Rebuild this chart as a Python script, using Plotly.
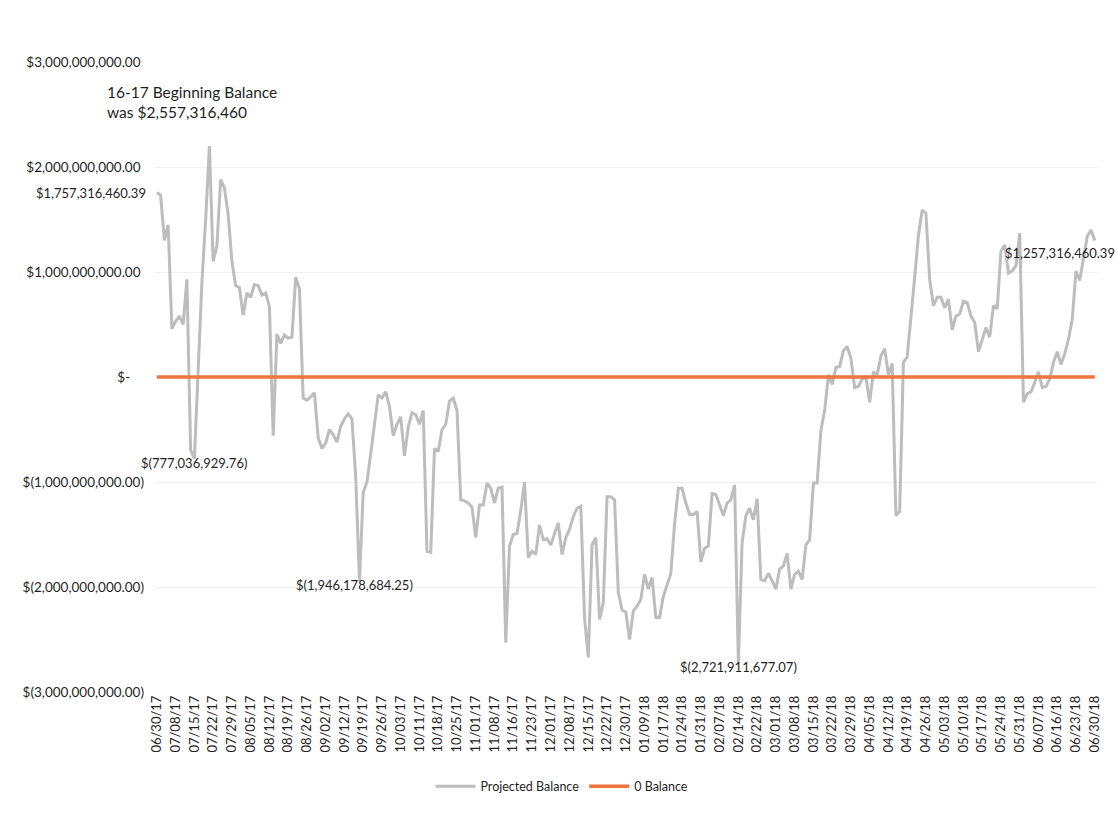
import plotly.graph_objects as go

# Projected daily balance (billions of dollars), one value per business day 06/30/17 .. 06/30/18
balance_bn = [
    1.757, 1.73, 1.30, 1.45, 0.46, 0.53, 0.58, 0.50, 0.93, -0.70,
    -0.777, 0.10, 0.90, 1.50, 2.20, 1.10, 1.25, 1.88, 1.80, 1.55,
    1.10, 0.87, 0.85, 0.59, 0.80, 0.76, 0.88, 0.87, 0.78, 0.80,
    0.67, -0.56, 0.41, 0.32, 0.40, 0.37, 0.38, 0.95, 0.84, -0.20,
    -0.22, -0.19, -0.15, -0.58, -0.68, -0.63, -0.50, -0.55, -0.62, -0.47,
    -0.40, -0.35, -0.40, -0.95, -1.946, -1.10, -1.00, -0.73, -0.43, -0.17,
    -0.20, -0.14, -0.28, -0.56, -0.45, -0.38, -0.75, -0.48, -0.34, -0.36,
    -0.45, -0.32, -1.66, -1.67, -0.68, -0.71, -0.50, -0.45, -0.23, -0.20,
    -0.32, -1.17, -1.18, -1.20, -1.24, -1.53, -1.22, -1.22, -1.01, -1.06,
    -1.20, -1.06, -1.05, -2.53, -1.61, -1.50, -1.49, -1.27, -1.00, -1.72,
    -1.66, -1.69, -1.41, -1.55, -1.54, -1.60, -1.49, -1.39, -1.69, -1.53,
    -1.45, -1.33, -1.25, -1.23, -2.30, -2.67, -1.60, -1.53, -2.31, -2.15,
    -1.14, -1.14, -1.17, -2.05, -2.22, -2.24, -2.50, -2.23, -2.18, -2.12,
    -1.88, -2.02, -1.91, -2.29, -2.29, -2.09, -1.98, -1.87, -1.40, -1.06,
    -1.06, -1.20, -1.31, -1.31, -1.28, -1.76, -1.63, -1.61, -1.11, -1.12,
    -1.22, -1.32, -1.20, -1.17, -1.03, -2.722, -1.58, -1.32, -1.25, -1.36,
    -1.16, -1.93, -1.94, -1.87, -1.94, -2.02, -1.83, -1.80, -1.68, -2.02,
    -1.88, -1.85, -1.93, -1.60, -1.55, -1.01, -1.01, -0.51, -0.32, 0.02,
    -0.07, 0.09, 0.10, 0.25, 0.29, 0.18, -0.10, -0.09, -0.02, 0.00,
    -0.24, 0.05, 0.02, 0.20, 0.27, 0.02, 0.13, -1.32, -1.28, 0.14,
    0.19, 0.55, 0.95, 1.35, 1.59, 1.56, 0.93, 0.68, 0.76, 0.76,
    0.66, 0.74, 0.45, 0.58, 0.60, 0.72, 0.71, 0.58, 0.52, 0.24,
    0.36, 0.47, 0.38, 0.68, 0.65, 1.20, 1.257, 0.99, 1.01, 1.06,
    1.37, -0.24, -0.16, -0.14, -0.05, 0.05, -0.10, -0.09, -0.02, 0.14,
    0.24, 0.12, 0.22, 0.36, 0.55, 1.01, 0.92, 1.15, 1.34, 1.40,
    1.30,
]

# Category labels shown on the x axis (every 5th business day)
tick_labels = [
    "06/30/17", "07/08/17", "07/15/17", "07/22/17", "07/29/17", "08/05/17", "08/12/17",
    "08/19/17", "08/26/17", "09/02/17", "09/12/17", "09/19/17", "09/26/17", "10/03/17",
    "10/11/17", "10/18/17", "10/25/17", "11/01/17", "11/08/17", "11/16/17", "11/23/17",
    "12/01/17", "12/08/17", "12/15/17", "12/22/17", "12/30/17", "01/09/18", "01/17/18",
    "01/24/18", "01/31/18", "02/07/18", "02/14/18", "02/22/18", "03/01/18", "03/08/18",
    "03/15/18", "03/22/18", "03/29/18", "04/05/18", "04/12/18", "04/19/18", "04/26/18",
    "05/03/18", "05/10/18", "05/17/18", "05/24/18", "05/31/18", "06/07/18", "06/16/18",
    "06/23/18", "06/30/18",
]
label_step = 5

zero_idx = [0, 250]
zero_vals = [0, 0]

y_ticks = [3e9, 2e9, 1e9, 0, -1e9, -2e9, -3e9]
y_ticktext = [
    "$3,000,000,000.00 ", "$2,000,000,000.00 ", "$1,000,000,000.00 ", "$-\u00a0\u00a0\u00a0\u00a0",
    "$(1,000,000,000.00)", "$(2,000,000,000.00)", "$(3,000,000,000.00)",
]

# Point labels: (day index, value in billions, text)
point_labels = [
    (0, 1.757, "$1,757,316,460.39"),
    (10, -0.777, "$(777,036,929.76)"),
    (54, -1.946, "$(1,946,178,684.25)"),
    (155, -2.722, "$(2,721,911,677.07)"),
    (225, 1.257, "$1,257,316,460.39"),
]

FONT = "Lato, Open Sans, sans-serif"
TXT = "#1f1f1f"

days = list(range(len(balance_bn)))
fig = go.Figure()
fig.add_trace(go.Scatter(
    x=days, y=[v * 1e9 for v in balance_bn], mode="lines", name="Projected Balance",
    line=dict(color="#BDBDBD", width=3),
))
fig.add_trace(go.Scatter(
    x=zero_idx, y=zero_vals, mode="lines", name="0 Balance",
    line=dict(color="#EE7440", width=3.5),
))

anns = []
shifts = {0: (-9, 0, "right", "middle"), 10: (0, -4, "center", "middle"),
          54: (-5, -4, "center", "middle"), 155: (0, -4, "center", "middle"),
          225: (2, -8, "left", "middle")}
for i, v, t in point_labels:
    xs, ys, xa, ya = shifts[i]
    anns.append(dict(x=i, y=v * 1e9, xref="x", yref="y", text=t, showarrow=False,
                     xanchor=xa, yanchor=ya, xshift=xs, yshift=ys,
                     font=dict(family=FONT, size=13, color=TXT)))
anns.append(dict(x=-0.053, y=0.937, xref="paper", yref="paper",
                 text="16-17 Beginning Balance<br>was $2,557,316,460", align="left",
                 showarrow=False, xanchor="left", yanchor="middle",
                 font=dict(family=FONT, size=15.5, color=TXT)))

fig.update_layout(
    width=1116, height=813,
    margin=dict(l=155, r=19, t=62, b=116),
    paper_bgcolor="white", plot_bgcolor="white",
    font=dict(family=FONT, size=13, color=TXT),
    showlegend=True,
    legend=dict(orientation="h", x=0.432, xanchor="center", y=-0.15, yanchor="middle",
                font=dict(family=FONT, size=12.5, color=TXT), itemwidth=40),
    annotations=anns,
    xaxis=dict(
        range=[-0.5, 250.6],
        tickmode="array",
        tickvals=list(range(0, len(tick_labels) * label_step, label_step)),
        ticktext=tick_labels,
        tickangle=-90,
        showgrid=False, zeroline=False, showline=False, ticks="",
        tickfont=dict(family=FONT, size=13, color=TXT),
    ),
    yaxis=dict(
        range=[-3e9, 3e9],
        tickmode="array", tickvals=y_ticks, ticktext=y_ticktext,
        showgrid=True, gridcolor="#F0F0F0", gridwidth=1,
        zeroline=False, showline=False, ticks="",
        ticklabelstandoff=10,
        tickfont=dict(family=FONT, size=13.5, color=TXT),
    ),
)

fig.write_html("out.html")
